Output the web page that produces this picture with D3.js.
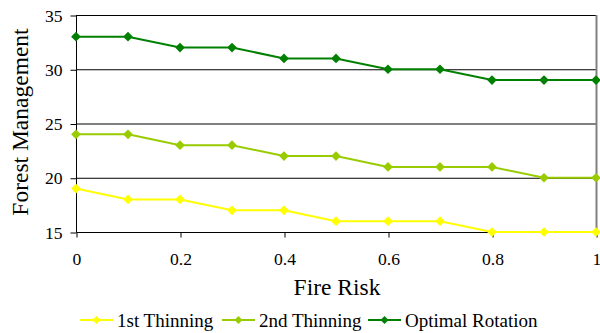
<!DOCTYPE html>
<html>
<head>
<meta charset="utf-8">
<script src="https://cdn.jsdelivr.net/npm/d3@7"></script>
<style>
  body { margin: 0; background: #fff; }
  svg { font-family: "Liberation Serif", "Times New Roman", Times, serif; }
</style>
</head>
<body>
<svg id="chart" width="600" height="333"></svg>
<script>
const fireRisk = [0, 0.1, 0.2, 0.3, 0.4, 0.5, 0.6, 0.7, 0.8, 0.9, 1];
const firstThinning = [19, 18, 18, 17, 17, 16, 16, 16, 15, 15, 15];
const secondThinning = [24, 24, 23, 23, 22, 22, 21, 21, 21, 20, 20];
const optimalRotation = [33, 33, 32, 32, 31, 31, 30, 30, 29, 29, 29];
const xTicks = [0, 0.2, 0.4, 0.6, 0.8, 1];
const yTicks = [15, 20, 25, 30, 35];

const series = [
  {name: "1st Thinning", values: firstThinning, color: "#ffff00"},
  {name: "2nd Thinning", values: secondThinning, color: "#99cc00"},
  {name: "Optimal Rotation", values: optimalRotation, color: "#008000"}
];

const svg = d3.select("#chart");
const plotLeft = 76, plotRight = 596, plotTop = 15, plotBottom = 232;

const x = d3.scaleLinear().domain([0, 1]).range([plotLeft, plotRight]);
const y = d3.scaleLinear().domain([15, 35]).range([plotBottom, plotTop]);

// gridlines
svg.append("g").selectAll("line")
  .data(yTicks.filter(d => d > 15))
  .enter().append("line")
    .attr("x1", plotLeft).attr("x2", plotRight)
    .attr("y1", d => y(d) + 0.5).attr("y2", d => y(d) + 0.5)
    .attr("stroke", "#000").attr("stroke-width", 1);

// right border
svg.append("line")
  .attr("x1", plotRight + 0.5).attr("x2", plotRight + 0.5)
  .attr("y1", plotTop).attr("y2", plotBottom)
  .attr("stroke", "#808080").attr("stroke-width", 2);

// axes
const yAxis = svg.append("g")
  .attr("transform", `translate(${plotLeft + 0.5},0.5)`)
  .call(d3.axisLeft(y).tickValues(yTicks).tickSize(6).tickPadding(8).tickFormat(d3.format("d")))
  .attr("font-family", null).attr("font-size", 17.6);
yAxis.select(".domain").attr("d", `M0,${plotTop}V${plotBottom}`);

const xAxis = svg.append("g")
  .attr("transform", `translate(0.5,${plotBottom + 0.5})`)
  .call(d3.axisBottom(x).tickValues(xTicks).tickSize(5).tickPadding(15).tickFormat(d => d))
  .attr("font-family", null).attr("font-size", 17.6);
xAxis.select(".domain").attr("d", `M${plotLeft},0H${plotRight}`);

// axis titles
svg.append("text")
  .attr("transform", "translate(28,122) rotate(-90)")
  .attr("text-anchor", "middle")
  .style("font-size", "23.5px")
  .text("Forest Management");

svg.append("text")
  .attr("x", 337).attr("y", 295)
  .attr("text-anchor", "middle")
  .style("font-size", "23.5px")
  .text("Fire Risk");

const line = d3.line()
  .x((d, i) => x(fireRisk[i]))
  .y(d => y(d));

const diamond = d3.symbol().type(d3.symbolDiamond2).size(60);

series.forEach(s => {
  svg.append("path")
    .attr("d", line(s.values))
    .attr("fill", "none")
    .attr("stroke", s.color)
    .attr("stroke-width", 2);
  svg.append("g").selectAll("path")
    .data(s.values)
    .enter().append("path")
      .attr("d", diamond)
      .attr("transform", (d, i) => `translate(${x(fireRisk[i])},${y(d)})`)
      .attr("fill", s.color);
});

// legend
const legendX = [80, 222, 368];
const legend = svg.append("g").selectAll("g")
  .data(series)
  .enter().append("g")
    .attr("transform", (d, i) => `translate(${legendX[i]},320)`);
legend.append("line")
  .attr("x1", 0).attr("x2", 33)
  .attr("stroke", d => d.color).attr("stroke-width", 2);
legend.append("path")
  .attr("d", d3.symbol().type(d3.symbolDiamond2).size(40))
  .attr("transform", "translate(16.5,0)")
  .attr("fill", d => d.color);
legend.append("text")
  .attr("x", 37).attr("y", 7)
  .style("font-size", "19px")
  .text(d => d.name);
</script>
</body>
</html>
